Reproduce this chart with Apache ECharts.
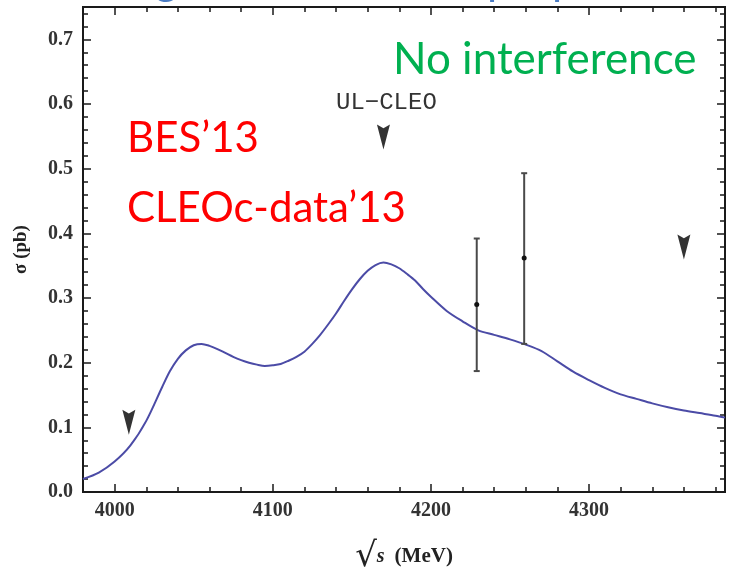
<!DOCTYPE html>
<html>
<head>
<meta charset="utf-8">
<style>
  html, body { margin: 0; padding: 0; background: #ffffff; }
  #chart { width: 730px; height: 578px; }
</style>
<script src="https://cdn.jsdelivr.net/npm/echarts@6/dist/echarts.min.js"></script>
</head>
<body>
<div id="chart"></div>
<script>
// ---- data ----
const curveX = [3980, 3990, 4000, 4010, 4020, 4030, 4035, 4040, 4045, 4050, 4055, 4060, 4065, 4070, 4075,
                4080, 4085, 4090, 4095, 4100, 4105, 4110, 4115, 4120, 4125, 4130, 4135, 4140, 4145, 4150,
                4155, 4160, 4165, 4170, 4175, 4180, 4185, 4190, 4195, 4200, 4210, 4220, 4230, 4240, 4250,
                4260, 4270, 4280, 4290, 4300, 4310, 4320, 4330, 4340, 4350, 4360, 4370, 4380, 4386];
const curveY = [0.020, 0.030, 0.047, 0.072, 0.110, 0.162, 0.187, 0.206, 0.219, 0.227, 0.229, 0.226, 0.221, 0.215, 0.209,
                0.204, 0.200, 0.197, 0.195, 0.196, 0.198, 0.203, 0.209, 0.217, 0.229, 0.243, 0.259, 0.276, 0.295, 0.313,
                0.329, 0.342, 0.351, 0.355, 0.352, 0.346, 0.337, 0.327, 0.314, 0.302, 0.280, 0.264, 0.250, 0.243, 0.236,
                0.228, 0.218, 0.202, 0.186, 0.173, 0.161, 0.151, 0.144, 0.137, 0.131, 0.126, 0.122, 0.118, 0.115];

const pointX  = [4229, 4259];
const pointY  = [0.290, 0.362];
const pointLo = [0.187, 0.229];
const pointHi = [0.392, 0.493];

const ulX = [4009, 4170, 4360];
const ulY = [0.108, 0.549, 0.379];

const xTicks = [4000, 4100, 4200, 4300];
const yTicks = [0.0, 0.1, 0.2, 0.3, 0.4, 0.5, 0.6, 0.7];

const xMin = 3980, xMax = 4386, yMin = 0, yMax = 0.75;

// minor tick positions (axis decoration)
const xMinor = [];
for (let v = 3980; v <= xMax; v += 20) if (v % 100 !== 0 && v > xMin) xMinor.push(v);
const yMinor = [];
for (let i = 1; i < 38; i++) if (i % 5 !== 0) yMinor.push(+(i * 0.02).toFixed(2));

const frameColor = '#1a1a1a';
const labelFont = { fontFamily: 'Liberation Serif', fontWeight: 'bold', fontSize: 20, color: '#333' };

function mkX(pos, ticks, len, withLabels) {
  return {
    type: 'value', min: xMin, max: xMax, position: pos,
    axisLine: { show: true, onZero: false, lineStyle: { color: frameColor, width: 2 } },
    axisTick: { show: true, inside: true, length: len, customValues: ticks, lineStyle: { color: frameColor, width: 1.5 } },
    axisLabel: withLabels ? Object.assign({ show: true, customValues: ticks, margin: 9, formatter: v => String(v) }, labelFont) : { show: false },
    splitLine: { show: false }
  };
}
function mkY(pos, ticks, len, withLabels) {
  return {
    type: 'value', min: yMin, max: yMax, position: pos,
    axisLine: { show: true, onZero: false, lineStyle: { color: frameColor, width: 2 } },
    axisTick: { show: true, inside: true, length: len, customValues: ticks, lineStyle: { color: frameColor, width: 1.5 } },
    axisLabel: withLabels ? Object.assign({ show: true, customValues: ticks, margin: 10, formatter: v => v.toFixed(1) }, labelFont) : { show: false },
    splitLine: { show: false }
  };
}

const xAxes = [mkX('bottom', xTicks, 8, true), mkX('bottom', xMinor, 5, false), mkX('top', xTicks, 8, false), mkX('top', xMinor, 5, false)];
xAxes[0].name = '{sq|√}{s|s}   {u|(MeV)}';
xAxes[0].nameLocation = 'middle';
xAxes[0].nameGap = 48;
xAxes[0].nameTextStyle = {
  rich: {
    sq: { fontFamily: 'DejaVu Serif', fontSize: 34, color: '#222' },
    s: { fontFamily: 'Liberation Serif', fontStyle: 'italic', fontWeight: 'bold', fontSize: 20, color: '#222' },
    u: { fontFamily: 'Liberation Serif', fontWeight: 'bold', fontSize: 21, color: '#222' }
  }
};
const yAxes = [mkY('left', yTicks, 8, true), mkY('left', yMinor, 5, false), mkY('right', yTicks, 8, false), mkY('right', yMinor, 5, false)];
yAxes[0].name = 'σ (pb)';
yAxes[0].nameLocation = 'middle';
yAxes[0].nameGap = 52;
yAxes[0].nameRotate = 90;
yAxes[0].nameTextStyle = { fontFamily: 'Liberation Serif', fontWeight: 'bold', fontSize: 19, color: '#222' };

const chart = echarts.init(document.getElementById('chart'), null, { renderer: 'canvas' });
chart.setOption({
  animation: false,
  backgroundColor: '#ffffff',
  grid: { left: 83, right: 5, top: 7, bottom: 86, containLabel: false, outerBoundsMode: 'none' },
  xAxis: xAxes,
  yAxis: yAxes,
  series: [
    {
      type: 'line', xAxisIndex: 0, yAxisIndex: 0,
      data: curveX.map((x, i) => [x, curveY[i]]),
      smooth: 0.3, showSymbol: false,
      lineStyle: { color: '#4b4ba6', width: 2 }, z: 3
    },
    {
      type: 'custom', xAxisIndex: 0, yAxisIndex: 0,
      data: pointX.map((x, i) => [x, pointY[i], pointLo[i], pointHi[i]]),
      renderItem: function (params, api) {
        const x = api.value(0);
        const c = api.coord([x, api.value(1)]);
        const lo = api.coord([x, api.value(2)]);
        const hi = api.coord([x, api.value(3)]);
        const st = { stroke: '#4a4a4a', lineWidth: 2 };
        return {
          type: 'group',
          children: [
            { type: 'line', shape: { x1: lo[0], y1: lo[1], x2: hi[0], y2: hi[1] }, style: st },
            { type: 'line', shape: { x1: lo[0] - 3, y1: lo[1], x2: lo[0] + 3, y2: lo[1] }, style: st },
            { type: 'line', shape: { x1: hi[0] - 3, y1: hi[1], x2: hi[0] + 3, y2: hi[1] }, style: st },
            { type: 'circle', shape: { cx: c[0], cy: c[1], r: 2.5 }, style: { fill: '#111' } }
          ]
        };
      },
      z: 4
    },
    {
      type: 'scatter', xAxisIndex: 0, yAxisIndex: 0,
      data: ulX.map((x, i) => [x, ulY[i]]),
      symbol: 'path://M0,0 L5,3 L10,0 L5,20 Z',
      symbolSize: [13, 25],
      itemStyle: { color: '#000' }, z: 5
    }
  ],
  graphic: [
    { type: 'text', left: 393, top: 38, style: { text: 'No interference', font: '44px Lato', fill: '#00b050' } },
    { type: 'text', left: 127, top: 117, style: { text: 'BES’13', font: '42px Lato', fill: '#ff0000' } },
    { type: 'text', left: 127, top: 187, style: { text: 'CLEOc-data’13', font: '42px Lato', fill: '#ff0000' } },
    { type: 'text', left: 336, top: 91, style: { text: 'UL−CLEO', font: '24px "Liberation Mono"', fill: '#333' } },
    { type: 'text', x: 155, y: -42, style: { text: 'g', font: '44px Lato', fill: '#4a7cc4' } },
    { type: 'text', x: 414, y: -42, style: { text: ',', font: '44px Lato', fill: '#4a7cc4' } },
    { type: 'text', x: 487, y: -42, style: { text: 'p', font: '44px Lato', fill: '#4a7cc4' } },
    { type: 'text', x: 552, y: -42, style: { text: 'p', font: '44px Lato', fill: '#4a7cc4' } }
  ]
});
</script>
</body>
</html>
